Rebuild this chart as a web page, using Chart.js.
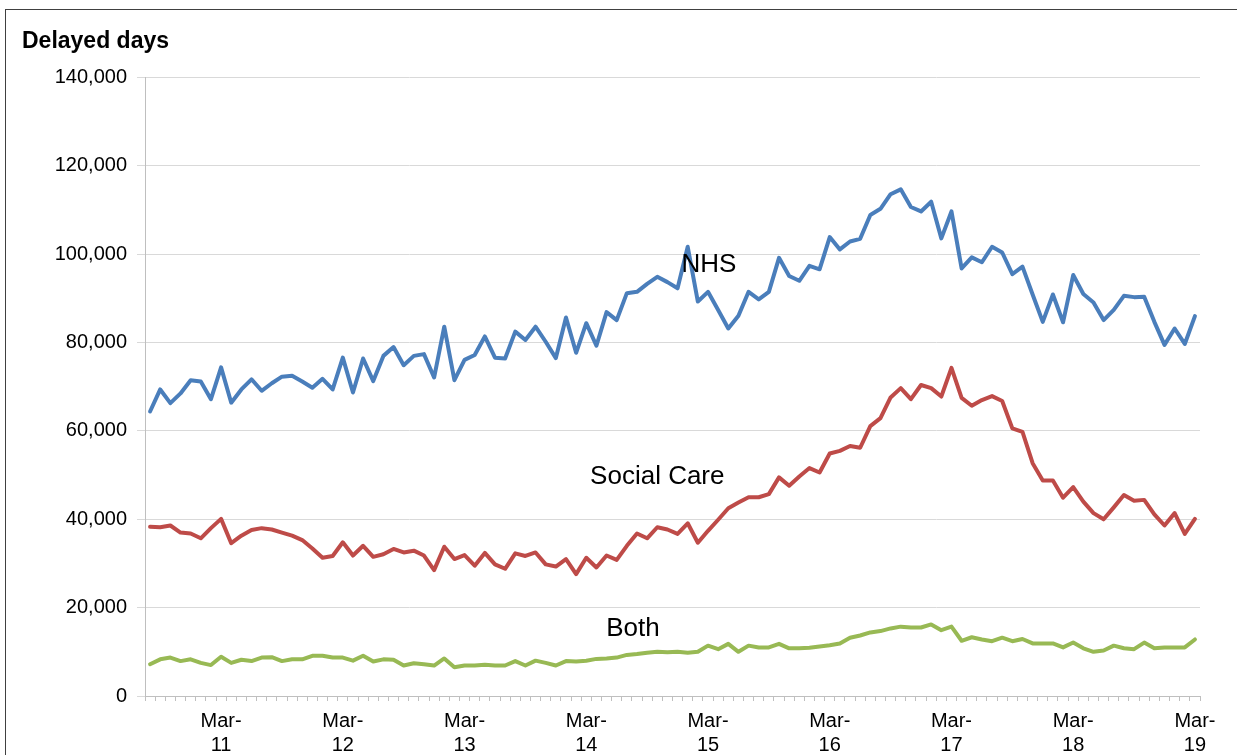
<!DOCTYPE html>
<html>
<head>
<meta charset="utf-8">
<title>Delayed days</title>
<script src="https://cdn.jsdelivr.net/npm/chart.js@4.4.1/dist/chart.umd.min.js"></script>
<style>
    html, body { margin: 0; padding: 0; background: #fff; overflow: hidden; }
    .frame {
        position: absolute;
        left: 5px;
        top: 9px;
        width: 1260px;
        height: 780px;
        border: 1px solid #404040;
    }
    #chart { position: absolute; left: 0; top: 0; }
</style>
</head>
<body>
<div class="frame"></div>
<canvas id="chart" width="1237" height="755"></canvas>
<script>
// Monthly figures, Aug 2010 to Mar 2019
const startYear = 2010;
const startMonth = 7; // August (0 based)
const monthCount = 104;
const monthNames = ['Jan', 'Feb', 'Mar', 'Apr', 'May', 'Jun', 'Jul', 'Aug', 'Sep', 'Oct', 'Nov', 'Dec'];

const months = [];
for (let k = 0; k < monthCount; k++) {
    const m = (startMonth + k) % 12;
    const y = startYear + Math.floor((startMonth + k) / 12);
    months.push(monthNames[m] + '-' + String(y % 100).padStart(2, '0'));
}

const nhsDays = [
    64400, 69400, 66300, 68500, 71500, 71200, 67200, 74400, 66400, 69400,
    71700, 69100, 70800, 72300, 72500, 71200, 69800, 71800, 69400, 76600,
    68700, 76400, 71300, 77000, 79000, 74900, 77000, 77400, 72100, 83600,
    71500, 76100, 77200, 81400, 76600, 76400, 82500, 80600, 83600, 80200,
    76500, 85700, 77700, 84400, 79300, 86900, 85100, 91200, 91500, 93300,
    94900, 93700, 92300, 101700, 89300, 91500, 87400, 83200, 86100, 91500,
    89800, 91500, 99200, 95100, 94000, 97400, 96600, 103900, 101100, 102900,
    103500, 108900, 110300, 113600, 114700, 110700, 109700, 111900, 103600, 109700,
    96800, 99300, 98200, 101700, 100400, 95500, 97200, 90900, 84700, 90900,
    84600, 95300, 91000, 89100, 85100, 87400, 90600, 90300, 90400, 84700,
    79500, 83200, 79700, 86000
];

const socialCareDays = [
    38300, 38200, 38600, 37000, 36800, 35700, 38000, 40100, 34600, 36300,
    37600, 38000, 37700, 37000, 36300, 35300, 33400, 31300, 31700, 34800,
    31800, 34000, 31500, 32100, 33300, 32500, 32900, 31800, 28500, 33800,
    31000, 31900, 29500, 32400, 29800, 28800, 32300, 31700, 32500, 29800,
    29300, 31000, 27600, 31300, 29100, 31800, 30800, 34000, 36800, 35700,
    38200, 37700, 36700, 39100, 34700, 37400, 39900, 42500, 43800, 45000,
    45000, 45700, 49500, 47600, 49700, 51600, 50600, 54900, 55500, 56600,
    56200, 61100, 62900, 67600, 69700, 67200, 70400, 69700, 67800, 74300,
    67500, 65700, 67000, 67900, 66800, 60600, 59800, 52700, 48800, 48800,
    44900, 47300, 44000, 41400, 40000, 42700, 45500, 44200, 44400, 41100,
    38600, 41400, 36700, 40100
];

const bothDays = [
    7200, 8300, 8700, 7900, 8300, 7500, 7000, 8900, 7500, 8200,
    7900, 8700, 8800, 7900, 8300, 8300, 9100, 9100, 8700, 8700,
    8000, 9100, 7800, 8300, 8200, 6900, 7400, 7200, 6900, 8500,
    6500, 6900, 6900, 7100, 6900, 6900, 7900, 6900, 8000, 7500,
    6900, 7900, 7800, 8000, 8400, 8500, 8700, 9300, 9500, 9800,
    10000, 9900, 10000, 9800, 10000, 11400, 10600, 11800, 10000, 11400,
    11000, 11000, 11800, 10800, 10800, 10900, 11200, 11500, 11900, 13200,
    13700, 14400, 14700, 15300, 15700, 15500, 15500, 16200, 14900, 15700,
    12500, 13300, 12800, 12400, 13200, 12400, 12900, 11900, 11900, 11900,
    11000, 12100, 10800, 10000, 10300, 11400, 10800, 10600, 12100, 10800,
    11000, 11000, 11000, 12800
];

const yTicks = [0, 20000, 40000, 60000, 80000, 100000, 120000, 140000];

// series names written next to the lines (category index, value)
const seriesLabels = [
    { text: 'NHS', at: 55.1, value: 97600 },
    { text: 'Social Care', at: 50.0, value: 49600 },
    { text: 'Both', at: 47.6, value: 15300 }
];

const FONT = 'Arial, "Liberation Sans", sans-serif';

const lineLabelPlugin = {
    id: 'lineLabels',
    afterDatasetsDraw(chart) {
        const ctx = chart.ctx;
        const xs = chart.scales.x;
        const ys = chart.scales.y;
        ctx.save();
        ctx.font = '26px ' + FONT;
        ctx.fillStyle = '#000';
        ctx.textAlign = 'center';
        ctx.textBaseline = 'middle';
        seriesLabels.forEach(l => {
            ctx.fillText(l.text, xs.getPixelForValue(l.at), ys.getPixelForValue(l.value));
        });
        ctx.restore();
    }
};

function lineSet(label, data, color) {
    return {
        label: label,
        data: data,
        borderColor: color,
        backgroundColor: color,
        borderWidth: 4,
        pointRadius: 0,
        tension: 0,
        borderJoinStyle: 'round',
        borderCapStyle: 'round'
    };
}

new Chart(document.getElementById('chart'), {
    type: 'line',
    data: {
        labels: months,
        datasets: [
            lineSet('NHS', nhsDays, '#4a7ebb'),
            lineSet('Social Care', socialCareDays, '#be4b48'),
            lineSet('Both', bothDays, '#98b954')
        ]
    },
    options: {
        responsive: false,
        animation: false,
        devicePixelRatio: 1,
        layout: { padding: { left: 22, right: 37, top: 0, bottom: 0 } },
        plugins: {
            legend: { display: false },
            tooltip: { enabled: false },
            title: {
                display: true,
                text: 'Delayed days',
                align: 'start',
                color: '#000',
                font: { family: FONT, size: 23, weight: 'bold', lineHeight: 1.2 },
                padding: { top: 28, bottom: 22 }
            }
        },
        scales: {
            x: {
                offset: true,
                afterFit: scale => { scale.height = 59; },
                border: { color: '#bfbfbf', width: 1 },
                grid: {
                    offset: true,
                    drawOnChartArea: false,
                    drawTicks: true,
                    tickLength: 5,
                    color: '#bfbfbf'
                },
                ticks: {
                    autoSkip: false,
                    maxRotation: 0,
                    padding: 8,
                    color: '#000',
                    font: { family: FONT, size: 20, lineHeight: 1.2 },
                    callback: function (value) {
                        const lab = this.getLabelForValue(value);
                        if (lab.startsWith('Mar')) {
                            return ['Mar-', lab.slice(4)];
                        }
                        return '';
                    }
                }
            },
            y: {
                min: 0,
                max: 140000,
                afterFit: scale => { scale.width = 123; },
                afterBuildTicks: scale => {
                    scale.ticks = yTicks.map(v => ({ value: v }));
                },
                border: { color: '#bfbfbf', width: 1 },
                grid: {
                    color: '#d9d9d9',
                    tickLength: 8,
                    lineWidth: 1
                },
                ticks: {
                    padding: 10,
                    color: '#000',
                    font: { family: FONT, size: 20 },
                    callback: v => v.toLocaleString('en-GB')
                }
            }
        }
    },
    plugins: [lineLabelPlugin]
});
</script>
</body>
</html>
